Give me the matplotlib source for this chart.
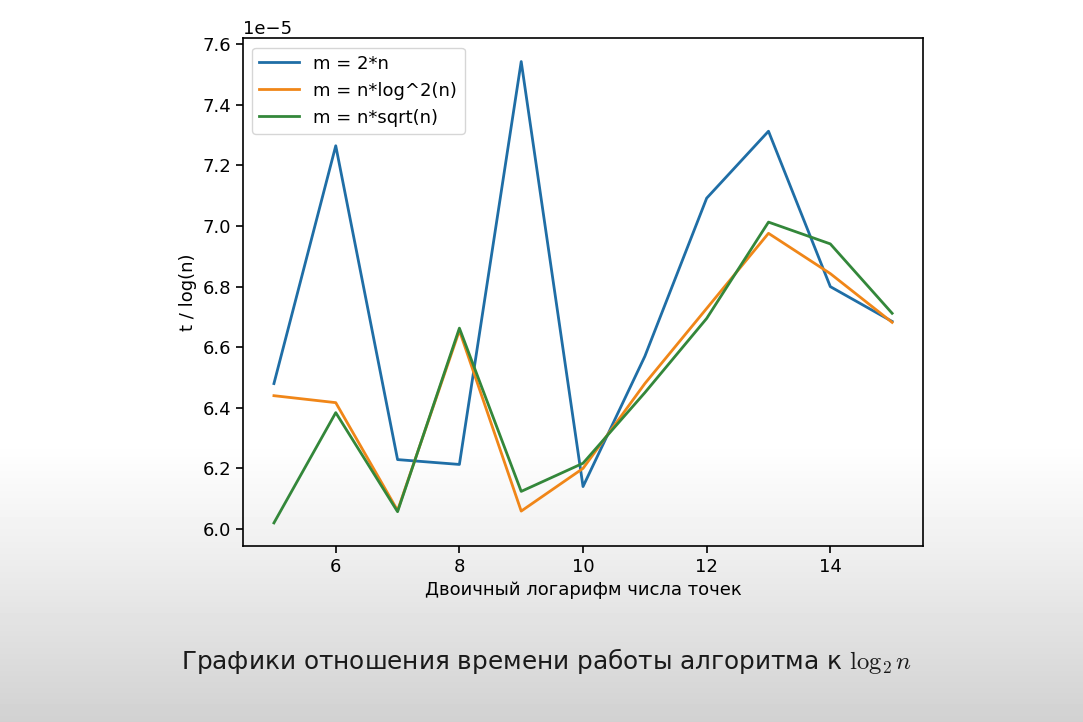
import numpy as np
import matplotlib
matplotlib.use("Agg")
from matplotlib import pyplot as plt

# log2 of number of points
x = [5, 6, 7, 8, 9, 10, 11, 12, 13, 14, 15]

# t / log(n), units of 1e-5
m_2n = [6.48, 7.265, 6.229, 6.213, 7.543, 6.14, 6.57, 7.092, 7.313, 6.800, 6.685]
m_nlog2 = [6.44, 6.417, 6.061, 6.655, 6.059, 6.200, 6.48, 6.728, 6.976, 6.843, 6.682]
m_nsqrt = [6.02, 6.384, 6.057, 6.663, 6.124, 6.217, 6.45, 6.695, 7.013, 6.941, 6.712]

labels = ["m = 2*n", "m = n*log^2(n)", "m = n*sqrt(n)"]

plt.rcParams["mathtext.fontset"] = "cm"

fig = plt.figure(figsize=(10.83, 7.22), dpi=100)

# slide background: white fading to grey at the bottom
bg = fig.add_axes([0, 0, 1, 1], zorder=-1)
rows = np.linspace(0, 1, 722)
shade = np.where(rows < 0.61, 1.0, 1.0 - 0.18 * ((rows - 0.61) / 0.39) ** 1.1)
bg.imshow(shade[:, None], cmap="gray", vmin=0, vmax=1, aspect="auto",
          extent=[0, 1, 0, 1], origin="upper")
bg.axis("off")

ax = fig.add_axes([0.2244, 0.2438, 0.6279, 0.7029])
ax.set_facecolor("none")

scale = 1e-5
ax.plot(x, np.array(m_2n) * scale, color="#1f6ea6", lw=2, label=labels[0])
ax.plot(x, np.array(m_nlog2) * scale, color="#f08618", lw=2, label=labels[1])
ax.plot(x, np.array(m_nsqrt) * scale, color="#33873a", lw=2, label=labels[2])

ax.set_xticks([6, 8, 10, 12, 14])
ax.tick_params(labelsize=13, width=1.2, length=5)
ax.yaxis.get_offset_text().set_fontsize(13)
for s in ax.spines.values():
    s.set_linewidth(1.2)

ax.set_xlabel("Двоичный логарифм числа точек", fontsize=13)
ax.set_ylabel("t / log(n)", fontsize=13)
ax.legend(loc="upper left", fontsize=13, handlelength=2.2)

fig.text(0.505, 0.085, "Графики отношения времени работы алгоритма к $\\log_2 n$",
         ha="center", va="center", fontsize=17.8, color="#1a1a1a")

fig.savefig("out.png", dpi=100)
